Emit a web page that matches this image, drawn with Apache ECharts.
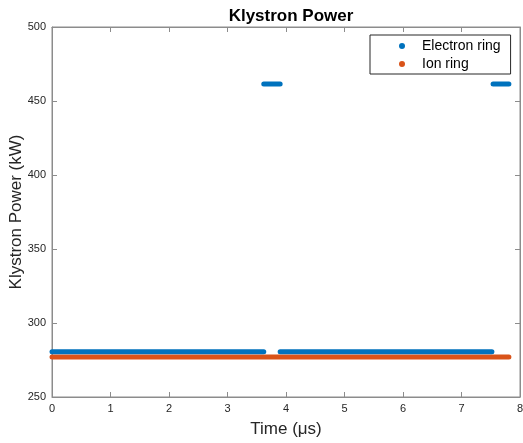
<!DOCTYPE html>
<html>
<head>
<meta charset="utf-8">
<script src="https://cdn.jsdelivr.net/npm/echarts@6/dist/echarts.min.js"></script>
<style>
  html, body { margin: 0; padding: 0; background: #fff; }
  #main { width: 523px; height: 443px; }
</style>
</head>
<body>
<div id="main"></div>
<script>
// values (time in us, power in kW)
var electronLow1 = [[0, 280.5], [3.62, 280.5]];
var electronHigh1 = [[3.62, 461.5], [3.9, 461.5]];
var electronLow2 = [[3.9, 280.5], [7.52, 280.5]];
var electronHigh2 = [[7.54, 461.5], [7.81, 461.5]];
var ionRing = [[0, 277], [7.81, 277]];

var xTicks = [0, 1, 2, 3, 4, 5, 6, 7, 8];
var yTicks = [250, 300, 350, 400, 450, 500];

var blue = "#0072BD";
var orange = "#D95319";
var font = "Helvetica, Arial, 'Liberation Sans', sans-serif";

var chart = echarts.init(document.getElementById("main"));

function seg(name, data, color) {
  return {
    name: name,
    type: "line",
    data: data,
    symbol: "none",
    color: color,
    lineStyle: { color: color, width: 5, cap: "round" },
    animation: false,
    z: name === "Ion ring" ? 2 : 3
  };
}

var axisColor = "#8c8c8c";
var tickLabel = { color: "#262626", fontSize: 11, fontFamily: font };

// same look for main and mirrored axes
function axisBase(extra) {
  return Object.assign({
    type: "value",
    axisLine: { show: true, onZero: false, lineStyle: { color: axisColor } },
    axisTick: { show: true, inside: true, length: 5, lineStyle: { color: axisColor } },
    splitLine: { show: false }
  }, extra);
}

var option = {
  title: {
    text: "Klystron Power",
    left: 286,
    top: 3,
    textAlign: "center",
    textStyle: { fontSize: 17, fontWeight: "bold", color: "#000", fontFamily: font }
  },
  legend: {
    orient: "vertical",
    left: 370,
    top: 35,
    width: 143,
    backgroundColor: "#fff",
    borderColor: "#262626",
    borderWidth: 1,
    padding: [3, 10, 2, 29],
    itemGap: 2,
    icon: "circle",
    itemWidth: 6,
    itemHeight: 6,
    data: ["Electron ring", "Ion ring"],
    textStyle: { fontSize: 14, color: "#000", fontFamily: font, lineHeight: 16, padding: [0, 0, 0, 12] },
    selectedMode: false
  },
  grid: {
    left: 52,
    right: 3,
    top: 27,
    bottom: 46,
    containLabel: false,
    outerBoundsMode: "none",
    show: true,
    borderColor: axisColor,
    borderWidth: 1
  },
  xAxis: [
    axisBase({
      position: "bottom",
      min: xTicks[0],
      max: xTicks[xTicks.length - 1],
      interval: 1,
      name: "Time (\u03bcs)",
      nameLocation: "middle",
      nameGap: 24,
      nameMoveOverlap: false,
      nameTextStyle: { fontSize: 17, color: "#262626", fontFamily: font },
      axisLabel: Object.assign({ margin: 6 }, tickLabel)
    }),
    axisBase({
      position: "top",
      min: xTicks[0],
      max: xTicks[xTicks.length - 1],
      interval: 1,
      axisLabel: { show: false }
    })
  ],
  yAxis: [
    axisBase({
      position: "left",
      min: yTicks[0],
      max: yTicks[yTicks.length - 1],
      interval: 50,
      name: "Klystron Power (kW)",
      nameLocation: "middle",
      nameGap: 27,
      nameMoveOverlap: false,
      nameTextStyle: { fontSize: 17, color: "#262626", fontFamily: font },
      axisLabel: Object.assign({ margin: 6 }, tickLabel)
    }),
    axisBase({
      position: "right",
      min: yTicks[0],
      max: yTicks[yTicks.length - 1],
      interval: 50,
      axisLabel: { show: false }
    })
  ],
  series: [
    seg("Ion ring", ionRing, orange),
    seg("Electron ring", electronLow1, blue),
    seg("Electron ring", electronHigh1, blue),
    seg("Electron ring", electronLow2, blue),
    seg("Electron ring", electronHigh2, blue)
  ]
};

chart.setOption(option);
</script>
</body>
</html>
